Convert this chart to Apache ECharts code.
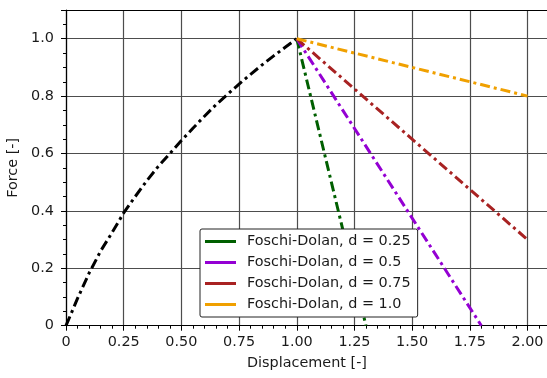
<!DOCTYPE html>
<html>
<head>
<meta charset="utf-8">
<script src="https://cdn.jsdelivr.net/npm/echarts@6/dist/echarts.min.js"></script>
<style>
  html, body { margin: 0; padding: 0; background: #fff; }
  #chart { width: 547px; height: 378px; }
</style>
</head>
<body>
<div id="chart"></div>
<script>
  // backbone (loading) curve
  const backboneX = [0, 0.05, 0.1, 0.15, 0.2, 0.25, 0.3, 0.35, 0.4, 0.45, 0.5, 0.55, 0.6, 0.65, 0.7, 0.75, 0.8, 0.85, 0.9, 0.95, 1.0];
  const backboneY = [0, 0.095, 0.183, 0.26, 0.325, 0.393, 0.45, 0.505, 0.555, 0.6, 0.645, 0.688, 0.73, 0.77, 0.806, 0.842, 0.876, 0.909, 0.94, 0.97, 1.0];

  // unloading branches: start and end points
  const names = ['Foschi-Dolan, d = 0.25', 'Foschi-Dolan, d = 0.5', 'Foschi-Dolan, d = 0.75', 'Foschi-Dolan, d = 1.0'];
  const colors = ['#005f00', '#9400d3', '#a82222', '#f0a000'];
  const branchStart = [1.0, 1.0];
  const branchEndX = [1.3, 1.8, 2.0, 2.0];
  const branchEndY = [0, 0, 0.3, 0.8];

  const xTickValues = [0, 0.25, 0.5, 0.75, 1.0, 1.25, 1.5, 1.75, 2.0];
  const xTickLabels = ['0', '0.25', '0.50', '0.75', '1.00', '1.25', '1.50', '1.75', '2.00'];
  const yTickValues = [0, 0.2, 0.4, 0.6, 0.8, 1.0];
  const yTickLabels = ['0', '0.2', '0.4', '0.6', '0.8', '1.0'];

  function lookup(vals, labels) {
    return function (v) {
      for (let i = 0; i < vals.length; i++) {
        if (Math.abs(vals[i] - v) < 1e-6) return labels[i];
      }
      return '';
    };
  }

  const dash = [10, 4, 3, 4];
  const txt = {fontFamily: 'DejaVu Sans', fontSize: 14.4, color: '#1a1a1a'};

  const series = [{
    type: 'line',
    name: 'backbone',
    data: backboneX.map((x, i) => [x, backboneY[i]]),
    showSymbol: false,
    lineStyle: {color: '#000', width: 3, type: dash},
    z: 3
  }];
  names.forEach((n, i) => {
    series.push({
      type: 'line',
      name: n,
      data: [branchStart, [branchEndX[i], branchEndY[i]]],
      showSymbol: false,
      itemStyle: {color: colors[i]},
      lineStyle: {color: colors[i], width: 3, type: dash},
      z: 3
    });
  });

  const xMax = 2.0888;

  const myChart = echarts.init(document.getElementById('chart'));
  myChart.setOption({
    animation: false,
    backgroundColor: '#fff',
    grid: {
      left: 66, top: 10, right: -1, bottom: 52.3,
      outerBoundsMode: 'none',
      show: false
    },
    xAxis: [{
      type: 'value', min: 0, max: xMax, interval: 0.25,
      axisLine: {show: true, lineStyle: {color: '#000', width: 1.2}},
      axisTick: {show: true, length: 5, lineStyle: {color: '#000'}},
      axisLabel: Object.assign({margin: 10, formatter: lookup(xTickValues, xTickLabels), showMaxLabel: false}, txt),
      splitLine: {show: true, showMaxLine: false, lineStyle: {color: '#4d4d4d', width: 1.2}},
      name: 'Displacement [-]', nameLocation: 'middle', nameGap: 31,
      nameTextStyle: txt
    }, {
      type: 'value', min: 0, max: xMax, interval: 0.05, position: 'bottom',
      axisLine: {show: false},
      axisTick: {show: true, length: 3, lineStyle: {color: '#000'}},
      axisLabel: {show: false},
      splitLine: {show: false}
    }, {
      // top frame line
      type: 'value', min: 0, max: xMax, position: 'top',
      axisLine: {show: true, onZero: false, lineStyle: {color: '#000', width: 1.2}},
      axisTick: {show: false},
      axisLabel: {show: false},
      splitLine: {show: false}
    }],
    yAxis: [{
      type: 'value', min: 0, max: 1.1, interval: 0.2,
      axisLine: {show: true, lineStyle: {color: '#000', width: 1.2}},
      axisTick: {show: true, length: 5, lineStyle: {color: '#000'}},
      axisLabel: Object.assign({margin: 12, formatter: lookup(yTickValues, yTickLabels)}, txt),
      splitLine: {show: true, showMaxLine: false, lineStyle: {color: '#4d4d4d', width: 1.2}},
      name: 'Force [-]', nameLocation: 'middle', nameGap: 40,
      nameTextStyle: txt
    }, {
      type: 'value', min: 0, max: 1.1, interval: 0.05, position: 'left',
      axisLine: {show: false},
      axisTick: {show: true, length: 3, lineStyle: {color: '#000'}},
      axisLabel: {show: false},
      splitLine: {show: false}
    }],
    legend: {
      data: names,
      orient: 'vertical',
      left: 200, top: 229,
      padding: [4, 7, 4, 5],
      itemGap: 4,
      itemWidth: 31, itemHeight: 3,
      icon: 'rect',
      backgroundColor: '#fff',
      borderColor: '#222', borderWidth: 1, borderRadius: 2,
      textStyle: Object.assign({lineHeight: 17, padding: [0, 0, 0, 6]}, txt)
    },
    series: series
  });
</script>
</body>
</html>
